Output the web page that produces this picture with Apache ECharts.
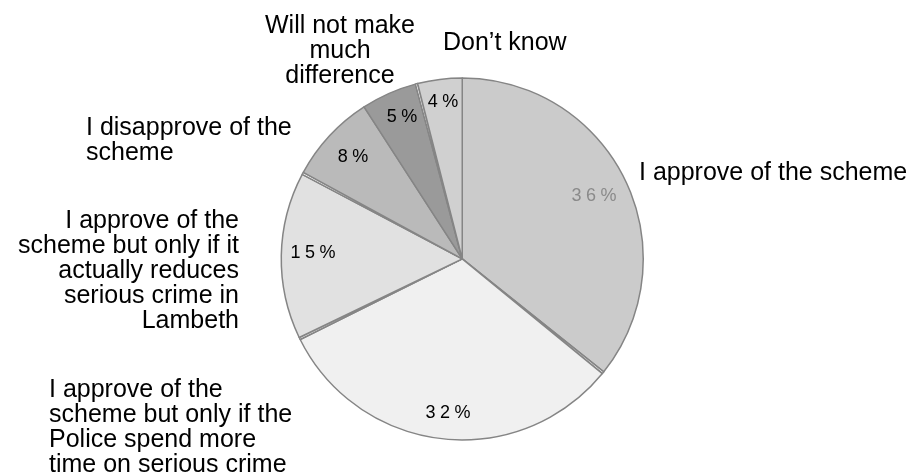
<!DOCTYPE html>
<html>
<head>
<meta charset="utf-8">
<title>Views on the scheme</title>
<script src="https://cdn.jsdelivr.net/npm/echarts@6/dist/echarts.min.js"></script>
<style>
  html, body { margin: 0; padding: 0; background: #ffffff; }
  #chart { width: 919px; height: 476px; }
</style>
</head>
<body>
<div id="chart"></div>
<script>
// Survey answers, clockwise from 12 o'clock.
// Unlabelled entries are answers too small to label (thin slivers).
const categories = [
  'I approve of the scheme',
  '',
  'I approve of the\nscheme but only if the\nPolice spend more\ntime on serious crime',
  '',
  'I approve of the\nscheme but only if it\nactually reduces\nserious crime in\nLambeth',
  '',
  'I disapprove of the\nscheme',
  'Will not make\nmuch\ndifference',
  '',
  'Don\u2019t know'
];
const shares = [36, 0.2, 32, 0.2, 15, 0.2, 8, 5, 0.2, 4];   // percent of respondents

// Slice fills and label placement
const fills = ['#cbcbcb', '#ffffff', '#f0f0f0', '#ffffff', '#e1e1e1', '#ffffff', '#bababa', '#9a9a9a', '#ffffff', '#d0d0d0'];
const pctColors = ['#8a8a8a', null, '#000', null, '#000', null, '#000', '#000', null, '#000'];
const pctPos = [[594, 196], null, [448, 413], null, [313, 253], null, [353, 157], [402, 117], null, [443, 102]];
const namePos = [
  { x: 639, y: 173, align: 'left' },
  null,
  { x: 49,  y: 428, align: 'left' },
  null,
  { x: 239, y: 271, align: 'right' },
  null,
  { x: 86,  y: 141, align: 'left' },
  { x: 340, y: 51,  align: 'center' },
  null,
  { x: 443, y: 43,  align: 'left' }
];

const FONT = '"Liberation Sans", Arial, Helvetica, sans-serif';
const center = ['50.3%', '54.4%'];
const radius = 181;

// digits and percent sign set slightly apart
const spaced = v => String(v).split('').join('\u2005') + '\u2005%';

const chart = echarts.init(document.getElementById('chart'), null, { renderer: 'canvas' });
chart.setOption({
  backgroundColor: '#ffffff',
  animation: false,
  series: [
    {
      type: 'pie',
      center: center,
      radius: radius,
      startAngle: 90,
      clockwise: true,
      minShowLabelAngle: 0,
      data: shares.map((v, i) => ({
        name: categories[i],
        value: v,
        itemStyle: { color: fills[i] },
        label: pctPos[i] ? { show: true, color: pctColors[i] } : { show: false }
      })),
      itemStyle: { borderColor: '#858585', borderWidth: 1.5 },
      label: {
        position: 'inside',
        formatter: p => spaced(p.value),
        fontFamily: FONT,
        fontSize: 18
      },
      labelLine: { show: false },
      labelLayout: p => {
        const c = pctPos[p.dataIndex];
        return c ? { x: c[0], y: c[1], align: 'center', verticalAlign: 'middle' } : {};
      },
      emphasis: { disabled: true }
    },
    {
      type: 'pie',
      silent: true,
      center: center,
      radius: radius,
      startAngle: 90,
      clockwise: true,
      data: shares.map((v, i) => ({
        name: categories[i],
        value: v,
        label: { show: !!namePos[i] }
      })),
      itemStyle: { color: 'rgba(0,0,0,0)', borderWidth: 0 },
      label: {
        position: 'outside',
        formatter: p => p.name,
        fontFamily: FONT,
        fontSize: 25,
        lineHeight: 25,
        width: 330,
        overflow: 'none',
        color: '#000'
      },
      labelLine: { show: false },
      labelLayout: p => {
        const c = namePos[p.dataIndex];
        return c ? { x: c.x, y: c.y, align: c.align, verticalAlign: 'middle' } : {};
      },
      emphasis: { disabled: true }
    }
  ]
});
</script>
</body>
</html>
